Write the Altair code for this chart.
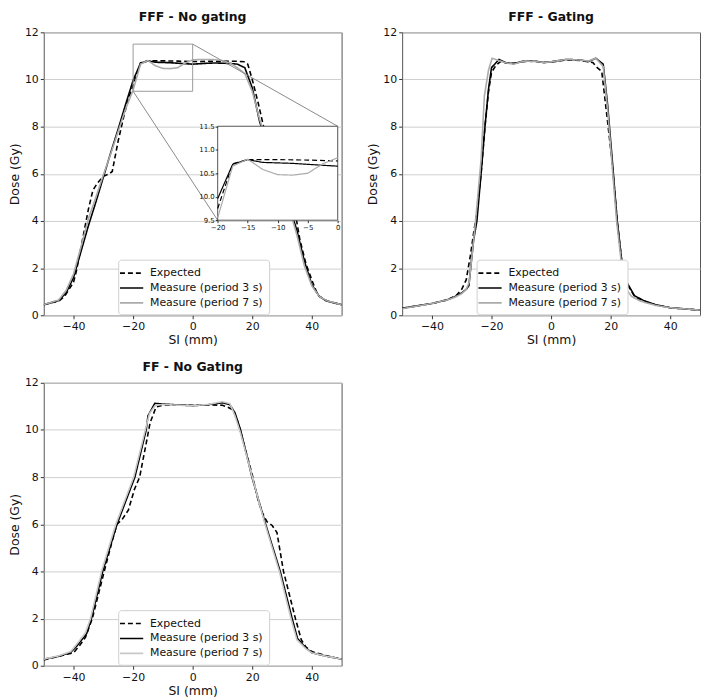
import altair as alt
import pandas as pd

SERIES = ["Expected", "Measure (period 3 s)", "Measure (period 7 s)"]
X_TICKS = [-40, -20, 0, 20, 40]
Y_TICKS = [0, 2, 4, 6, 8, 10, 12]
INSET_X_TICKS = [-20, -15, -10, -5, 0]
INSET_Y_TICKS = [9.5, 10.0, 10.5, 11.0, 11.5]
INSET_X_RANGE = [-20, 0]
INSET_Y_RANGE = [9.5, 11.5]

# ---------------- FFF - No gating ----------------
a_exp_x = [-50, -45, -43, -40, -39, -37, -35, -33.5, -32, -30, -28, -27, -25, -23, -21.5, -20,
           -17.5, -15, -12.5, -10, -5, 0, 5, 10, 15, 17.5, 18.5, 20, 22, 24, 25.5, 27, 29, 31,
           33, 34.5, 36, 38, 40, 42, 45, 50]
a_exp_y = [0.45, 0.6, 0.8, 1.4, 1.9, 3.2, 4.5, 5.3, 5.6, 5.9, 6.0, 6.1, 7.4, 8.5, 9.2, 9.75,
           10.7, 10.79, 10.79, 10.79, 10.78, 10.76, 10.77, 10.78, 10.77, 10.75, 10.65, 10.0, 9.0,
           7.9, 7.0, 6.2, 6.0, 5.8, 5.2, 4.3, 3.2, 2.2, 1.5, 0.85, 0.62, 0.45]
a_m3_x = [-50, -45, -42.5, -40, -37.5, -35, -32.5, -30, -27.5, -25, -22.5, -20, -17.5, -15,
          -12.5, -10, -7.5, -5, -2.5, 0, 2.5, 5, 7.5, 10, 12.5, 15, 17.5, 20, 22.5, 25, 27.5,
          30, 32.5, 35, 37.5, 40, 42.5, 45, 50]
a_m3_y = [0.45, 0.62, 0.95, 1.6, 2.7, 3.8, 4.8, 5.85, 6.9, 7.9, 8.95, 9.96, 10.69, 10.79,
          10.73, 10.72, 10.71, 10.69, 10.67, 10.65, 10.67, 10.69, 10.7, 10.69, 10.68, 10.65,
          10.5, 9.65, 8.2, 7.3, 6.4, 5.5, 4.6, 3.6, 2.3, 1.3, 0.8, 0.6, 0.45]
a_m7_x = [-50, -45, -42.5, -40, -37.5, -35, -32.5, -30, -27.5, -25, -22.5, -20, -17.5, -15,
          -12.5, -10, -7.5, -5, -2.5, 0, 2.5, 5, 7.5, 10, 12.5, 15, 17.5, 20, 22.5, 25, 27.5,
          30, 32.5, 35, 37.5, 40, 42.5, 45, 50]
a_m7_y = [0.45, 0.65, 1.05, 1.75, 2.9, 4.1, 5.0, 5.95, 6.85, 7.8, 8.75, 9.55, 10.65, 10.8,
          10.58, 10.47, 10.46, 10.5, 10.7, 10.83, 10.85, 10.85, 10.84, 10.8, 10.7, 10.5, 10.25,
          9.5, 8.3, 7.3, 6.4, 5.5, 4.5, 3.4, 2.1, 1.25, 0.8, 0.62, 0.45]

# ---------------- FFF - Gating ----------------
b_exp_x = [-50, -40, -35, -32, -30, -28.5, -27, -26, -25, -23.5, -22.2, -21, -20, -18.5, -17,
           -15, -12.5, -10, -7.5, -5, -2.5, 0, 2.5, 5, 7.5, 10, 12.5, 14, 15.5, 17, 18.2, 18.8,
           20.5, 22.2, 24, 25.2, 28, 31, 35, 40, 50]
b_exp_y = [0.3, 0.5, 0.65, 0.82, 1.1, 1.5, 2.6, 3.5, 4.3, 6.0, 8.0, 9.5, 10.3, 10.6, 10.76,
           10.7, 10.68, 10.76, 10.78, 10.76, 10.72, 10.74, 10.78, 10.83, 10.82, 10.8, 10.75,
           10.72, 10.5, 10.35, 9.05, 8.4, 6.5, 4.0, 2.0, 1.4, 0.8, 0.6, 0.45, 0.32, 0.22]
b_m3_x = [-50, -40, -35, -32.5, -30, -28.5, -27.6, -27, -26, -24.9, -23.5, -22.2, -21, -20,
          -17.5, -15, -12.5, -10, -7.5, -5, -2.5, 0, 2.5, 5, 7.5, 10, 12.5, 15, 17.5, 19, 20.6,
          22.2, 24, 25.3, 28, 31, 35, 40, 50]
b_m3_y = [0.3, 0.5, 0.65, 0.78, 0.95, 1.1, 1.25, 2.0, 3.2, 4.0, 6.0, 8.0, 9.6, 10.5, 10.85,
          10.7, 10.68, 10.75, 10.78, 10.77, 10.72, 10.75, 10.8, 10.85, 10.84, 10.82, 10.76,
          10.9, 10.65, 8.9, 6.5, 4.0, 2.0, 1.43, 0.83, 0.63, 0.45, 0.32, 0.22]
b_m7_x = [-50, -40, -35, -32.5, -30, -28.5, -27.5, -26.5, -25.5, -24.5, -23.5, -22.4, -21,
          -19.8, -17.5, -15, -12.5, -10, -7.5, -5, -2.5, 0, 2.5, 5, 7.5, 10, 12.5, 15, 17.5, 19,
          20.4, 22, 23.8, 24.5, 27, 30, 35, 40, 50]
b_m7_y = [0.28, 0.5, 0.65, 0.75, 0.92, 1.1, 1.4, 2.6, 3.8, 5.2, 6.6, 9.3, 10.4, 10.9, 10.8,
          10.7, 10.65, 10.75, 10.78, 10.76, 10.72, 10.75, 10.8, 10.85, 10.84, 10.82, 10.78,
          10.9, 10.55, 8.7, 6.5, 4.0, 2.0, 1.23, 0.8, 0.6, 0.42, 0.32, 0.22]

# ---------------- FF - No Gating ----------------
c_exp_x = [-50, -45, -40, -38, -36, -33.7, -29.7, -27, -25.4, -23.7, -21.6, -19.5, -17.8,
           -15.5, -14.3, -12.3, -10, -5, 0, 5, 10, 12, 13.5, 15, 17, 20, 22, 23.5, 25, 26.7,
           28.3, 30.5, 32.5, 34.5, 36.5, 38, 40, 45, 50]
c_exp_y = [0.25, 0.4, 0.55, 0.85, 1.2, 2.0, 4.0, 5.3, 6.0, 6.2, 6.6, 7.5, 8.0, 9.5, 10.3,
           10.97, 11.05, 11.06, 11.05, 11.06, 11.05, 10.95, 10.85, 10.4, 9.5, 8.1, 7.0, 6.45,
           6.1, 5.95, 5.65, 4.0, 3.0, 2.0, 1.09, 0.8, 0.6, 0.42, 0.28]
c_m3_x = [-50, -45, -41, -39, -35.6, -34, -30.2, -25.4, -19.4, -15.6, -15, -12.7, -10, -5, 0,
          5, 10, 12.5, 14.2, 16.1, 19.9, 24.5, 29.4, 33.4, 35.2, 38, 40, 45, 50]
c_m3_y = [0.28, 0.4, 0.56, 0.82, 1.36, 2.0, 4.0, 6.0, 8.0, 10.0, 10.6, 11.13, 11.1, 11.06,
          11.03, 11.07, 11.15, 11.07, 10.73, 10.0, 8.0, 6.0, 4.0, 2.0, 1.16, 0.75, 0.55, 0.4,
          0.28]
c_m7_x = [-50, -45, -41, -39, -36, -34.3, -30.6, -25.8, -19.8, -15.9, -14.5, -12.5, -10, -5,
          0, 5, 10, 12.5, 14.2, 16, 20, 24.3, 29.1, 33, 35, 38, 40, 45, 50]
c_m7_y = [0.28, 0.42, 0.6, 0.9, 1.4, 2.0, 4.0, 6.0, 8.0, 10.0, 10.7, 11.05, 11.08, 11.05,
          11.03, 11.08, 11.2, 11.12, 10.6, 9.9, 8.0, 6.0, 4.0, 2.0, 1.1, 0.72, 0.55, 0.4, 0.28]

FONT = "DejaVu Sans"
W, H = 300, 285
TEXT = "#111111"


def make_df(exp_x, exp_y, m3_x, m3_y, m7_x, m7_y):
    rows = []
    for name, xs, ys in zip(SERIES, [exp_x, m3_x, m7_x], [exp_y, m3_y, m7_y]):
        for i, (xv, yv) in enumerate(zip(xs, ys)):
            rows.append({"x": xv, "y": yv, "series": name, "i": i})
    return pd.DataFrame(rows)


X_SCALE = alt.Scale(domain=[-50, 50], nice=False, zero=False)
Y_SCALE = alt.Scale(domain=[0, 12], nice=False, zero=False)

X_AXIS = alt.Axis(values=X_TICKS, title="SI (mm)", grid=False, domain=False, tickSize=3.5,
                  tickColor="#333333", labelFontSize=11, titleFontSize=12.5,
                  titleFontWeight="normal", labelPadding=2, titlePadding=2, labelFont=FONT,
                  titleFont=FONT, labelColor=TEXT, titleColor=TEXT, format="d")
Y_AXIS = alt.Axis(values=Y_TICKS, title="Dose (Gy)", grid=True, gridColor="#cfcfcf",
                  gridWidth=1, domain=False, tickSize=3.5, tickColor="#333333",
                  labelFontSize=11, titleFontSize=12.5, titleFontWeight="normal",
                  labelPadding=2, titlePadding=3, labelFont=FONT, titleFont=FONT,
                  labelColor=TEXT, titleColor=TEXT, format="d")

LEG_W, LEG_H = 150, 52


def legend():
    return alt.Legend(title=None, orient="none", legendX=W / 2 - LEG_W / 2,
                      legendY=H - 4 - LEG_H)


def enc_style(gray, leg, dash=(5, 3)):
    return dict(
        color=alt.Color("series:N", scale=alt.Scale(domain=SERIES,
                                                    range=["black", "black", gray]),
                        legend=leg),
        strokeDash=alt.StrokeDash("series:N", scale=alt.Scale(
            domain=SERIES, range=[list(dash), [1, 0], [1, 0]]), legend=leg),
    )


def main_lines(df, gray):
    return alt.Chart(df).mark_line(strokeWidth=1.6, clip=True).encode(
        x=alt.X("x:Q", scale=X_SCALE, axis=X_AXIS),
        y=alt.Y("y:Q", scale=Y_SCALE, axis=Y_AXIS),
        order="i:Q",
        **enc_style(gray, legend()),
    )


def title(t):
    return alt.TitleParams(t, font=FONT, fontSize=12.5, fontWeight="bold", offset=3,
                           color=TEXT)


GRAY_TOP = "#ababab"
GRAY_BOT = "#c8c8c8"

dfA = make_df(a_exp_x, a_exp_y, a_m3_x, a_m3_y, a_m7_x, a_m7_y)
dfB = make_df(b_exp_x, b_exp_y, b_m3_x, b_m3_y, b_m7_x, b_m7_y)
dfC = make_df(c_exp_x, c_exp_y, c_m3_x, c_m3_y, c_m7_x, c_m7_y)

# ---- inset placement (fractions of the plot area) ----
INS_FX = (0.584, 0.987)
INS_FY = (0.336, 0.668)
box_x = [-50 + f * 100 for f in INS_FX]
box_y = [f * 12 for f in INS_FY]

span_x = (INSET_X_RANGE[1] - INSET_X_RANGE[0]) / (INS_FX[1] - INS_FX[0])
ix0 = INSET_X_RANGE[0] - INS_FX[0] * span_x
span_y = (INSET_Y_RANGE[1] - INSET_Y_RANGE[0]) / (INS_FY[1] - INS_FY[0])
iy0 = INSET_Y_RANGE[0] - INS_FY[0] * span_y

zoom_df = pd.DataFrame([{"x": INSET_X_RANGE[0], "x2": INSET_X_RANGE[1],
                         "y": INSET_Y_RANGE[0], "y2": INSET_Y_RANGE[1]}])
conn_df = pd.DataFrame([
    {"x": INSET_X_RANGE[1], "y": INSET_Y_RANGE[1], "x2": box_x[1], "y2": box_y[1]},
    {"x": INSET_X_RANGE[0], "y": INSET_Y_RANGE[0], "x2": box_x[0], "y2": box_y[0]},
])
box_df = pd.DataFrame([{"x": box_x[0], "x2": box_x[1], "y": box_y[0], "y2": box_y[1]}])

zoom_rect = alt.Chart(zoom_df).mark_rect(fillOpacity=0, stroke="#9a9a9a", strokeWidth=1).encode(
    x=alt.X("x:Q", scale=X_SCALE, axis=X_AXIS), x2="x2:Q",
    y=alt.Y("y:Q", scale=Y_SCALE, axis=Y_AXIS), y2="y2:Q")
connectors = alt.Chart(conn_df).mark_rule(stroke="#8a8a8a", strokeWidth=1).encode(
    x=alt.X("x:Q", scale=X_SCALE, axis=X_AXIS), x2="x2:Q",
    y=alt.Y("y:Q", scale=Y_SCALE, axis=Y_AXIS), y2="y2:Q")
inset_bg = alt.Chart(box_df).mark_rect(fill="white", stroke="#555555", strokeWidth=1).encode(
    x=alt.X("x:Q", scale=X_SCALE, axis=X_AXIS), x2="x2:Q",
    y=alt.Y("y:Q", scale=Y_SCALE, axis=Y_AXIS), y2="y2:Q")

inset_df = dfA[(dfA["x"] >= INSET_X_RANGE[0]) & (dfA["x"] <= INSET_X_RANGE[1])]
inset_lines = alt.Chart(inset_df).mark_line(strokeWidth=1.2).encode(
    x=alt.X("x:Q", scale=alt.Scale(domain=[ix0, ix0 + span_x], nice=False, zero=False),
            axis=alt.Axis(orient="bottom", offset=-INS_FY[0] * H, values=INSET_X_TICKS,
                          title=None, grid=False, domain=False, tickSize=2.5,
                          tickColor="#333333", labelFontSize=7, labelFont=FONT,
                          labelColor=TEXT, labelFlush=False, labelPadding=1, zindex=1,
                          format="d")),
    y=alt.Y("y:Q", scale=alt.Scale(domain=[iy0, iy0 + span_y], nice=False, zero=False),
            axis=alt.Axis(orient="left", offset=-INS_FX[0] * W, values=INSET_Y_TICKS,
                          title=None, grid=False, domain=False, tickSize=2.5,
                          tickColor="#333333", labelFontSize=7, labelFont=FONT,
                          labelColor=TEXT, labelPadding=1, zindex=1, format=".1f")),
    order="i:Q",
    **enc_style(GRAY_TOP, legend(), dash=(3, 2)),
)

main_A = alt.layer(main_lines(dfA, GRAY_TOP), zoom_rect, connectors, inset_bg)
panelA = alt.layer(main_A, inset_lines).resolve_scale(x="independent", y="independent").properties(
    width=W, height=H, title=title("FFF - No gating"))

panelB = main_lines(dfB, GRAY_TOP).properties(width=W, height=H, title=title("FFF - Gating"))
panelC = main_lines(dfC, GRAY_BOT).properties(width=W, height=H, title=title("FF - No Gating"))

top_row = alt.hconcat(panelA, panelB, spacing=24).resolve_scale(
    color="independent", strokeDash="independent").resolve_legend(
    color="independent", strokeDash="independent")

chart = alt.vconcat(top_row, panelC, spacing=14).resolve_scale(
    color="independent", strokeDash="independent").resolve_legend(
    color="independent", strokeDash="independent").properties(
    padding={"left": 0, "top": 0, "right": 0, "bottom": 0}).configure_view(
    stroke="#555555", strokeWidth=1
).configure_legend(
    fillColor="white", strokeColor="#d0d0d0", padding=6, cornerRadius=3,
    labelFont=FONT, labelFontSize=11, labelColor=TEXT, symbolType="M-1.8,0H1.8",
    symbolSize=169, symbolStrokeWidth=1.6, rowPadding=2, labelOffset=11
)

chart.save("out.html", embed_options={"renderer": "svg", "actions": False})
